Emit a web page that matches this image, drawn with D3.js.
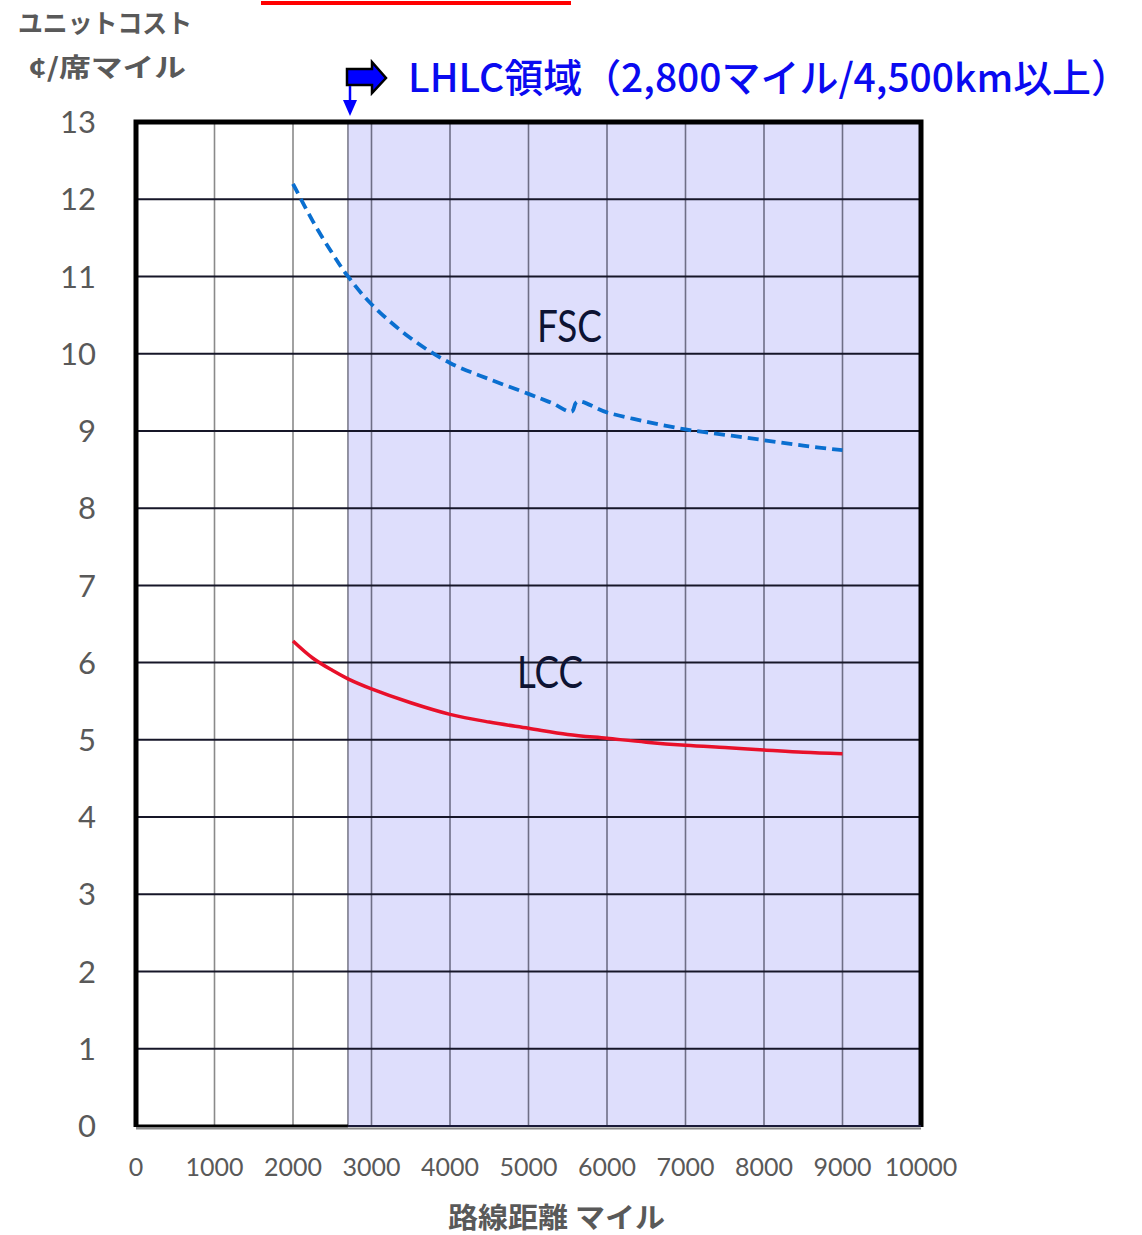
<!DOCTYPE html>
<html><head><meta charset="utf-8">
<script src="https://cdn.jsdelivr.net/npm/d3@7"></script>
<style>body{margin:0;background:#fff}svg{display:block}</style>
</head><body>
<svg id="c" width="1142" height="1235"></svg>
<script>
// ---- data ----
const xTicks = [0,1000,2000,3000,4000,5000,6000,7000,8000,9000,10000];
const yTicks = [0,1,2,3,4,5,6,7,8,9,10,11,12,13];
const lhlcStart = 2700;
const fscDist = [2000,2250,2500,2700,3000,3500,4000,4500,5000,5300,5550,5620,6000,6500,7000,7500,8000,8500,9000];
const fscCost = [12.2,11.72,11.3,11.0,10.64,10.2,9.88,9.67,9.48,9.36,9.25,9.38,9.24,9.12,9.02,8.95,8.88,8.81,8.75];
const lccDist = [2000,2250,2500,2700,3000,3500,4000,4500,5000,5500,6000,6500,7000,7500,8000,8500,9000];
const lccCost = [6.28,6.06,5.9,5.79,5.66,5.48,5.33,5.23,5.15,5.07,5.02,4.97,4.93,4.9,4.87,4.84,4.82];
const yTitle = ["ユニットコスト","¢/席マイル"];
const xTitle = "路線距離 マイル";
const annotation = "LHLC領域（2,800マイル/4,500km以上）";

// ---- chart ----
const svg = d3.select("#c");
const x = d3.scaleLinear().domain([0,10000]).range([136,921]);
const y = d3.scaleLinear().domain([0,13]).range([1126,122]);

// top red stray line
svg.append("line").attr("x1",261).attr("x2",571).attr("y1",3).attr("y2",3)
  .attr("stroke","#ff0000").attr("stroke-width",4);

// shaded LHLC region
svg.append("rect").attr("x",x(lhlcStart)).attr("y",y(13))
  .attr("width",x(10000)-x(lhlcStart)).attr("height",y(0)-y(13))
  .attr("fill","#dedefc");

// vertical gridlines
svg.append("g").selectAll("line").data(xTicks.slice(1,-1)).join("line")
  .attr("x1",d=>x(d)).attr("x2",d=>x(d)).attr("y1",y(13)).attr("y2",y(0))
  .attr("stroke",d=>d>lhlcStart?"#6e6e86":"#8a8a8a").attr("stroke-width",1.6);
// boundary line
svg.append("line").attr("x1",x(lhlcStart)).attr("x2",x(lhlcStart)).attr("y1",y(13)).attr("y2",y(0))
  .attr("stroke","#555566").attr("stroke-width",1.2);

// horizontal gridlines
svg.append("g").selectAll("line").data(yTicks.slice(1,-1)).join("line")
  .attr("x1",x(0)).attr("x2",x(10000)).attr("y1",d=>y(d)).attr("y2",d=>y(d))
  .attr("stroke","#161628").attr("stroke-width",2);

// frame
const fr = svg.append("g").attr("fill","none");
fr.append("path").attr("d",`M${x(0)},${y(0)+1}V${y(13)}H${x(10000)}V${y(0)+1}`)
  .attr("stroke","#000").attr("stroke-width",5);
fr.append("line").attr("x1",x(0)).attr("x2",x(lhlcStart)).attr("y1",y(0)).attr("y2",y(0))
  .attr("stroke","#000").attr("stroke-width",3);
fr.append("line").attr("x1",x(0)).attr("x2",x(10000)).attr("y1",y(0)+2.5).attr("y2",y(0)+2.5)
  .attr("stroke","#8a8a8a").attr("stroke-width",2);
fr.append("line").attr("x1",x(lhlcStart)).attr("x2",x(10000)).attr("y1",y(0)).attr("y2",y(0))
  .attr("stroke","#1a1a3a").attr("stroke-width",2);

// curves
const line = d3.line().x(d=>x(d[0])).y(d=>y(d[1])).curve(d3.curveCatmullRom.alpha(0.5));
svg.append("path").datum(fscDist.map((d,i)=>[d,fscCost[i]])).attr("d",line)
  .attr("fill","none").attr("stroke","#0a6fd0").attr("stroke-width",3.8)
  .attr("stroke-dasharray","11,6");
svg.append("path").datum(lccDist.map((d,i)=>[d,lccCost[i]])).attr("d",line)
  .attr("fill","none").attr("stroke","#e8102a").attr("stroke-width",3.5);

// series labels
svg.append("text").attr("x",537).attr("y",342).text("FSC")
  .attr("font-family","Lato, 'Open Sans', sans-serif").attr("font-size",45)
  .attr("fill","#0d1333").attr("textLength",65).attr("lengthAdjust","spacingAndGlyphs");
svg.append("text").attr("x",517).attr("y",688).text("LCC")
  .attr("font-family","Lato, 'Open Sans', sans-serif").attr("font-size",45)
  .attr("fill","#0d1333").attr("textLength",66).attr("lengthAdjust","spacingAndGlyphs");

// y tick labels
svg.append("g").selectAll("text").data(yTicks).join("text")
  .attr("x",96).attr("y",d=>y(d)).attr("dy","0.36em").attr("text-anchor","end")
  .attr("font-family","Lato, 'Open Sans', sans-serif").attr("font-size",31)
  .attr("fill","#595959").text(d=>d);

// x tick labels
svg.append("g").selectAll("text").data(xTicks).join("text")
  .attr("x",d=>x(d)).attr("y",1176).attr("text-anchor","middle")
  .attr("font-family","Lato, 'Open Sans', sans-serif").attr("font-size",25)
  .attr("fill","#595959").text(d=>d);

// axis titles
const cjk = "'Noto Sans CJK JP', 'Noto Sans', sans-serif";
svg.append("text").attr("x",18).attr("y",33).text(yTitle[0])
  .attr("font-family",cjk).attr("font-weight","bold").attr("font-size",26)
  .attr("fill","#595959").attr("textLength",174).attr("lengthAdjust","spacingAndGlyphs");
svg.append("text").attr("x",28).attr("y",77).text(yTitle[1])
  .attr("font-family",cjk).attr("font-weight","bold").attr("font-size",26)
  .attr("fill","#595959").attr("textLength",158).attr("lengthAdjust","spacingAndGlyphs");
svg.append("text").attr("x",448).attr("y",1228).text(xTitle)
  .attr("font-family",cjk).attr("font-weight","bold").attr("font-size",28)
  .attr("fill","#595959").attr("textLength",217).attr("lengthAdjust","spacingAndGlyphs");

// annotation: block arrow + down arrow + text
svg.append("path").attr("d","M347,69H372V62L386,78L372,93V85H347Z")
  .attr("fill","#0000ff").attr("stroke","#000").attr("stroke-width",2.5).attr("stroke-linejoin","miter");
svg.append("line").attr("x1",350).attr("x2",350).attr("y1",86).attr("y2",102)
  .attr("stroke","#0000ff").attr("stroke-width",2.5);
svg.append("path").attr("d","M343,100H357L350,116Z").attr("fill","#0000ff");
svg.append("text").attr("x",408).attr("y",92).text(annotation)
  .attr("font-family",cjk).attr("font-weight",500).attr("font-size",39).attr("fill","#0a0af0")
  .attr("textLength",722).attr("lengthAdjust","spacingAndGlyphs");
</script>
</body></html>
